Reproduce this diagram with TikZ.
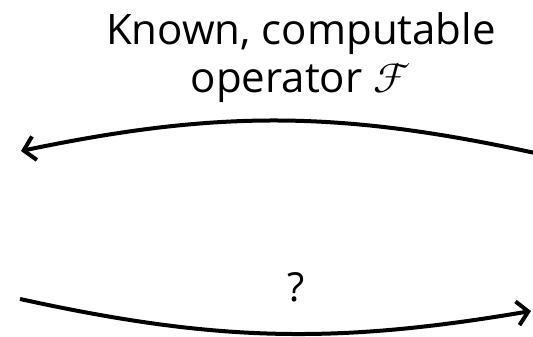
\documentclass[tikz,border=0pt]{standalone}
\usepackage{unicode-math}
\setmainfont{Open Sans}
\setmathfont{Latin Modern Math}
\usetikzlibrary{arrows.meta}
\begin{document}
\begin{tikzpicture}[
   x=1pt,y=-1pt,
   oplabel/.style={align=center,font=\fontsize{42}{48}\selectfont,inner sep=0pt},
   qlabel/.style={font=\fontsize{40}{48}\selectfont,inner sep=0pt},
   oparrow/.style={line width=4pt,-{Straight Barb[length=11pt,width=24pt,line width=4pt]}}
 ]
 \useasboundingbox (0,0) rectangle (533,337);
 % operator label above, question mark below
 \node[oplabel] (known) at (301,58) {Known, computable\\operator $\mathcal{F}$};
 \node[qlabel] (unknown) at (296,287) {?};
 \coordinate (topR) at (535,153);
 \coordinate (topL) at (21,151);
 \coordinate (botL) at (20,299);
 \coordinate (botR) at (531,311);
 \draw[oparrow] (topR) to[bend right=12] (topL);
 \draw[oparrow] (botL) to[bend right=11] (botR);
\end{tikzpicture}
\end{document}
